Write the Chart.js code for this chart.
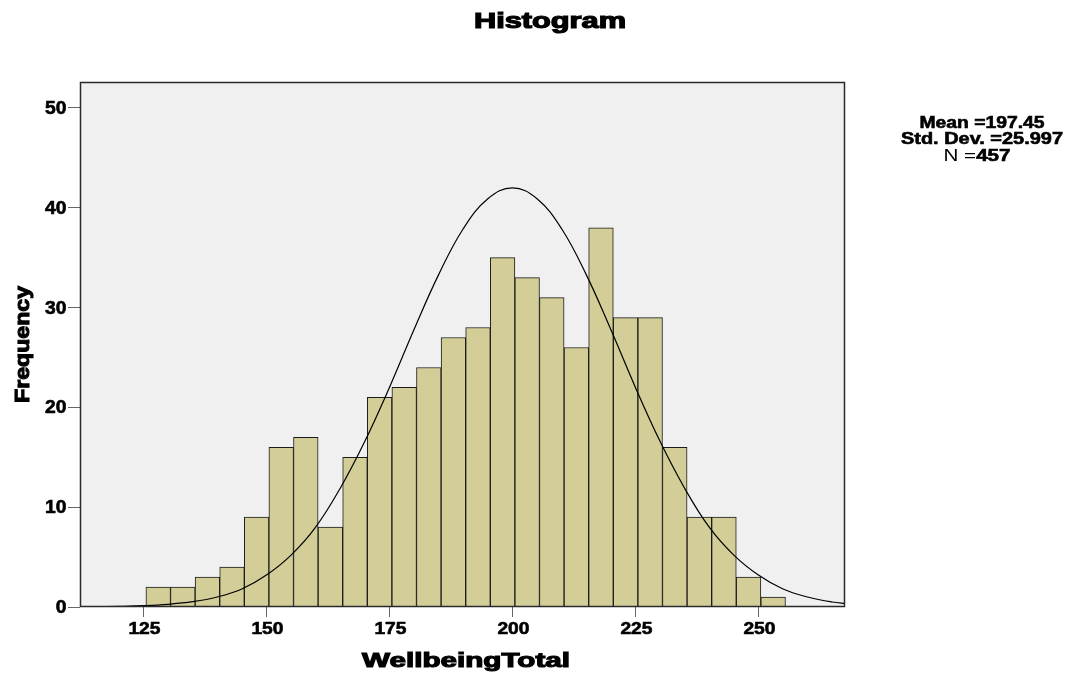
<!DOCTYPE html>
<html>
<head>
<meta charset="utf-8">
<script src="https://cdn.jsdelivr.net/npm/chart.js@4/dist/chart.umd.min.js"></script>
<style>
  html, body { margin: 0; padding: 0; background: #fff; }
  #wrap { width: 1068px; height: 677px; position: relative; }
</style>
</head>
<body>
<div id="wrap"><canvas id="histChart"></canvas></div>
<script>
// datos del histograma (centros de cada clase y frecuencias)
const binCenters = [128, 133, 138, 143, 148, 153, 158, 163, 168, 173, 178, 183, 188,
                    193, 198, 203, 208, 213, 218, 223, 228, 233, 238, 243, 248, 253];
const frequencies = [2, 2, 3, 4, 9, 16, 17, 8, 15, 21, 22, 24, 27,
                     28, 35, 33, 31, 26, 38, 29, 29, 16, 9, 9, 3, 1];

// curva normal
const curveX = [112, 115, 120, 125, 130, 135, 140, 145, 150, 155, 160, 165, 170, 175, 180, 185, 190, 195,
                200, 205, 210, 215, 220, 225, 230, 235, 240, 245, 250, 255, 260, 265, 268];
const curveY = [0.01, 0.02, 0.06, 0.13, 0.27, 0.53, 1.0, 1.8, 3.2, 5.2, 8.0, 11.9, 16.6, 22.0, 27.8, 33.3, 37.9, 40.9,
                42.0, 40.9, 37.9, 33.3, 27.8, 22.0, 16.6, 11.9, 8.0, 5.2, 3.2, 1.8, 1.0, 0.5, 0.35];

const xTicks = [125, 150, 175, 200, 225, 250];
const yTicks = [0, 10, 20, 30, 40, 50];

const chartTitle = "Histogram";
const xTitle = "WellbeingTotal";
const yTitle = "Frequency";
const statMean = "Mean =197.45";
const statSd = "Std. Dev. =25.997";
const statNLabel = "N =";
const statN = "457";

const FONT = '"Liberation Sans", Arial, Helvetica, sans-serif';

// texto con ancho forzado (el original usa una fuente mas ancha y gruesa)
function wideText(ctx, text, x, y, font, width, heavy) {
    ctx.font = font;
    const w = ctx.measureText(text).width;
    ctx.save();
    ctx.translate(x, y);
    ctx.scale(width / w, 1);
    ctx.textAlign = 'center';
    ctx.fillText(text, 0, 0);
    if (heavy) {
        ctx.lineWidth = heavy;
        ctx.strokeStyle = ctx.fillStyle;
        ctx.strokeText(text, 0, 0);
    }
    ctx.restore();
}

function scaledText(ctx, text, x, y, font, sx, align, heavy) {
    ctx.font = font;
    ctx.save();
    ctx.translate(x, y);
    ctx.scale(sx, 1);
    ctx.textAlign = align;
    ctx.fillText(text, 0, 0);
    if (heavy) {
        ctx.lineWidth = heavy;
        ctx.strokeStyle = ctx.fillStyle;
        ctx.strokeText(text, 0, 0);
    }
    ctx.restore();
}

const plotDecor = {
    id: 'plotDecor',
    beforeDraw(chart) {
        const { ctx, chartArea: a } = chart;
        ctx.save();
        ctx.fillStyle = '#ffffff';
        ctx.fillRect(0, 0, chart.width, chart.height);
        ctx.fillStyle = '#f0f0f0';
        ctx.fillRect(a.left, a.top, a.right - a.left, a.bottom - a.top);
        ctx.restore();
    },
    afterDatasetsDraw(chart) {
        const { ctx, chartArea: a } = chart;
        ctx.save();
        ctx.strokeStyle = '#2a2a2a';
        ctx.lineWidth = 1.5;
        ctx.strokeRect(a.left + 0.5, a.top + 0.5, a.right - a.left - 1, a.bottom - a.top - 1);
        ctx.restore();
    },
    afterDraw(chart) {
        const ctx = chart.ctx;
        const xs = chart.scales.x, ys = chart.scales.y;
        ctx.save();
        ctx.fillStyle = '#000';
        ctx.textBaseline = 'alphabetic';

        // titulo
        wideText(ctx, chartTitle, 550, 28, 'bold 22px ' + FONT, 152, 1.2);

        // etiquetas del eje x
        xTicks.forEach(v => {
            scaledText(ctx, String(v), xs.getPixelForValue(v) + 1, 634, 'bold 17px ' + FONT, 1.13, 'center', 0.6);
        });
        // etiquetas del eje y
        ctx.textBaseline = 'middle';
        yTicks.forEach(v => {
            scaledText(ctx, String(v), 66.5, ys.getPixelForValue(v) + 1, 'bold 18px ' + FONT, 1.07, 'right', 0.6);
        });
        ctx.textBaseline = 'alphabetic';

        // titulos de ejes
        wideText(ctx, xTitle, 466, 667, 'bold 20px ' + FONT, 208, 1.1);
        ctx.save();
        ctx.translate(29, 344.5);
        ctx.rotate(-Math.PI / 2);
        wideText(ctx, yTitle, 0, 0, 'bold 21px ' + FONT, 117, 1.1);
        ctx.restore();

        // estadisticos
        wideText(ctx, statMean, 982, 127.5, 'bold 16px ' + FONT, 125, 0.6);
        wideText(ctx, statSd, 982, 144, 'bold 16px ' + FONT, 162, 0.6);
        ctx.font = '16px ' + FONT;
        const w1 = ctx.measureText(statNLabel).width;
        ctx.font = 'bold 16px ' + FONT;
        const w2 = ctx.measureText(statN).width;
        const sx = 67 / (w1 + w2);
        const x0 = 977 - 33.5;
        scaledText(ctx, statNLabel, x0, 161, '16px ' + FONT, sx, 'left');
        scaledText(ctx, statN, x0 + w1 * sx, 161, 'bold 16px ' + FONT, sx, 'left', 0.6);
        ctx.restore();
    }
};

const ctxHist = document.getElementById('histChart').getContext('2d');
const histChart = new Chart(ctxHist, {
    type: 'bar',
    data: {
        datasets: [
            {
                type: 'line',
                data: curveX.map((x, i) => ({ x: x, y: curveY[i] })),
                borderColor: '#000000',
                borderWidth: 1.2,
                pointRadius: 0,
                tension: 0.4,
                fill: false,
                order: 0
            },
            {
                type: 'bar',
                data: binCenters.map((x, i) => ({ x: x, y: frequencies[i] })),
                backgroundColor: 'rgb(211, 206, 152)',
                borderColor: '#1a1a1a',
                borderWidth: 1,
                barPercentage: 1.0,
                categoryPercentage: 1.0,
                order: 1
            }
        ]
    },
    options: {
        responsive: true,
        maintainAspectRatio: false,
        animation: false,
        layout: { padding: { top: 82, right: 223, left: 0, bottom: 0 } },
        plugins: {
            legend: { display: false },
            tooltip: { enabled: false },
            title: { display: false }
        },
        scales: {
            x: {
                type: 'linear',
                offset: false,
                min: 112.1,
                max: 267.6,
                afterBuildTicks: s => { s.ticks = xTicks.map(v => ({ value: v })); },
                afterFit: s => { s.height = 70; },
                ticks: { display: false },
                grid: { offset: false, drawOnChartArea: false, drawTicks: true, tickLength: 10, color: '#666', lineWidth: 1 },
                border: { display: false }
            },
            y: {
                type: 'linear',
                min: 0,
                max: 52.6,
                afterBuildTicks: s => { s.ticks = yTicks.map(v => ({ value: v })); },
                afterFit: s => { s.width = 80; },
                ticks: { display: false },
                grid: { drawOnChartArea: false, drawTicks: true, tickLength: 12, color: '#666', lineWidth: 1 },
                border: { display: false }
            }
        }
    },
    plugins: [plotDecor]
});
</script>
</body>
</html>
